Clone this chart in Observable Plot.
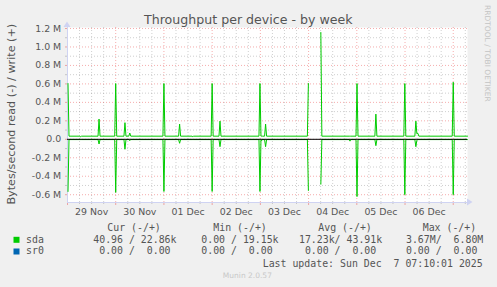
<!DOCTYPE html>
<html><head><meta charset="utf-8">
<script src="https://cdn.jsdelivr.net/npm/d3@7"></script>
<script src="https://cdn.jsdelivr.net/npm/@observablehq/plot@0.6"></script>
<style>
html,body{margin:0;padding:0;background:#f0f0f0;}
#chart svg{display:block;}
</style></head><body><div id="chart"></div>
<script>
// time in hours since 29 Nov 2025 00:00
const hours = [
  0.25, 0.75, 6.2, 6.6, 7.0, 15.2, 15.7, 16.2,
  23.5, 24.0, 24.5, 28.1, 28.6, 29.1, 30.5, 31.0, 31.5,
  47.5, 48.0, 48.5, 55.3, 55.8, 56.3, 62.0, 62.4, 62.8,
  71.5, 72.0, 72.5, 75.4, 75.9, 76.4,
  95.3, 95.8, 96.3, 96.6, 97.0, 98.1, 98.6, 99.1,
  119.4, 119.9, 120.4, 126.1, 126.6,
  140.2, 140.6, 141.0, 143.6, 144.1, 144.6, 153.0, 153.5, 154.0,
  167.4, 167.9, 168.4, 172.9, 173.4, 173.9, 174.4, 174.9,
  191.5, 192.0, 192.5, 199.1
];
// sda write (+), bytes/second
const sdaWrite = [
  604000, 34000, 34000, 27000, 34000, 34000, 219000, 34000,
  34000, 604000, 34000, 34000, 180000, 34000, 34000, 68000, 34000,
  34000, 604000, 34000, 34000, 165000, 34000, 34000, 28000, 34000,
  34000, 604000, 34000, 34000, 197000, 34000,
  34000, 604000, 34000, 34000, 34000, 34000, 165000, 34000,
  34000, 604000, null, 1157000, 34000,
  34000, 34000, 34000, 34000, 604000, 34000, 34000, 273000, 34000,
  34000, 604000, 34000, 34000, 197000, 60000, 65000, 34000,
  34000, 618000, 34000, 34000
];
// sda read (-), bytes/second drawn negative
const sdaRead = [
  -565000, -3000, -3000, -3000, -3000, -3000, -51000, -3000,
  -3000, -575000, -3000, -3000, -108000, -3000, -3000, -15000, -3000,
  -3000, -565000, -3000, -3000, -43000, -3000, -3000, -3000, -3000,
  -3000, -565000, -3000, -3000, -80000, -3000,
  -3000, -565000, -3000, -15000, -3000, -3000, -80000, -3000,
  -3000, -554000, null, -486000, -3000,
  -3000, -20000, -3000, -3000, -620000, -3000, -3000, -69000, -3000,
  -3000, -600000, -3000, -3000, -80000, -10000, -3000, -3000,
  -3000, -600000, -3000, -3000
];
const dayLabels = ["29 Nov","30 Nov","01 Dec","02 Dec","03 Dec","04 Dec","05 Dec","06 Dec"];
const dayNoons = [12, 36, 60, 84, 108, 132, 156, 180];
const midnights = [0, 24, 48, 72, 96, 120, 144, 168, 192];
const sixHours = [6,12,18,30,36,42,54,60,66,78,84,90,102,108,114,126,132,138,150,156,162,174,180,186,198];
const yMajor = [-600000,-400000,-200000,0,200000,400000,600000,800000,1000000,1200000];
const yMinor = [-500000,-300000,-100000,100000,300000,500000,700000,900000,1100000];
const legendHeader = ["Cur (-/+)", "Min (-/+)", "Avg (-/+)", "Max (-/+)"];
const seriesNames = ["sda", "sr0"];
const seriesColors = ["#00cc00", "#0066b3"];
const legendRows = [
  [" 40.96 / 22.86k", "  0.00 / 19.15k", " 17.23k/ 43.91k", "  3.67M/  6.80M"],
  ["  0.00 /  0.00 ", "  0.00 /  0.00 ", "  0.00 /  0.00 ", "  0.00 /  0.00 "]
];
const lastUpdate = "Last update: Sun Dec  7 07:10:01 2025";

const data = hours.map((h, i) => ({h, w: sdaWrite[i], r: sdaRead[i]}));

const gray = "rgba(128,128,128,0.38)";
const red = "rgba(230,40,40,0.38)";
const axisCol = "#cfd3f2";
const txt = "#555555";

const plot = Plot.plot({
  width: 497, height: 287,
  marginLeft: 67, marginRight: 30, marginTop: 27, marginBottom: 85,
  style: {background: "#f0f0f0", fontFamily: "DejaVu Sans", color: txt, overflow: "visible"},
  x: {domain: [0, 199.1], label: null},
  y: {domain: [-684400, 1210800], label: null},
  marks: [
    Plot.frame({fill: "white", stroke: null}),
    Plot.ruleX(sixHours, {stroke: gray, strokeDasharray: "1,2", y1: -684400, y2: 1210800}),
    Plot.ruleY(yMinor, {stroke: gray, strokeDasharray: "1,2"}),
    Plot.ruleX(midnights, {stroke: red, strokeDasharray: "1,2", y1: -684400, y2: 1210800}),
    Plot.ruleY(yMajor, {stroke: red, strokeDasharray: "1,2"}),
    Plot.axisX({ticks: midnights, tickSize: 3, tickFormat: () => "", stroke: red, label: null}),
    Plot.axisX({ticks: sixHours, tickSize: 2, tickFormat: () => "", stroke: gray, label: null}),
    Plot.axisX({ticks: dayNoons, tickSize: 0, tickPadding: 6, fontSize: 9.4, label: null,
      tickFormat: d => dayLabels[Math.round((d - 12) / 24)]}),
    Plot.axisY({ticks: yMajor, tickSize: 2, tickPadding: 4.3, fontSize: 9.4, stroke: red, label: null,
      tickFormat: d => d === 0 ? "0.0" : (d / 1e6).toFixed(1) + " M"}),
    Plot.axisY({ticks: yMinor, tickSize: 2, tickFormat: () => "", stroke: gray, label: null}),
    Plot.ruleY([-684400], {stroke: axisCol}),
    Plot.ruleX([0], {stroke: axisCol}),
    Plot.line(data, {x: "h", y: "r", stroke: seriesColors[0], strokeWidth: 1}),
    Plot.ruleY([0], {stroke: "#000000", strokeWidth: 1}),
    Plot.line(data, {x: "h", y: "w", stroke: seriesColors[0], strokeWidth: 1})
  ]
});
document.getElementById("chart").append(plot);

const svg = d3.select(plot);
// axis arrows
svg.append("path").attr("d", "M467,198.5 L472.5,202 L467,205.5 Z").attr("fill", axisCol);
svg.append("path").attr("d", "M63.5,27 L67,21.5 L70.5,27 Z").attr("fill", axisCol);

function addText(x, y, t, opts = {}) {
  const el = svg.append("text").attr("x", x).attr("y", y)
    .attr("text-anchor", opts.anchor || "start")
    .attr("font-family", opts.family || "DejaVu Sans")
    .attr("font-size", opts.size || 10)
    .attr("fill", opts.fill || txt)
    .style("white-space", "pre")
    .text(t);
  if (opts.transform) el.attr("transform", opts.transform);
  return el;
}

addText(248.3, 23.5, "Throughput per device - by week", {anchor: "middle", size: 12.6});
addText(0, 0, "Bytes/second read (-) / write (+)",
  {anchor: "middle", size: 11.2, transform: "translate(15,114.2) rotate(-90)"});
addText(0, 0, "RRDTOOL / TOBI OETIKER",
  {anchor: "start", size: 7.5, fill: "#c4c4c4", transform: "translate(485,5) rotate(90)"});

const mono = "DejaVu Sans Mono";
const headerX = [107.3, 213.3, 318.3, 422.7];
legendHeader.forEach((t, i) => addText(headerX[i], 230.7, t, {family: mono, size: 9.9}));
const fieldX = [87.3, 189.4, 293, 394.1];
const rowY = [242.6, 254.3];
seriesNames.forEach((name, r) => {
  svg.append("rect").attr("x", 13.5).attr("y", rowY[r] - 5.8).attr("width", 6).attr("height", 6)
    .attr("fill", seriesColors[r]);
  addText(26, rowY[r], name, {family: mono, size: 9.9});
  legendRows[r].forEach((t, i) => addText(fieldX[i], rowY[r], t, {family: mono, size: 9.9}));
});
addText(482.7, 266.6, lastUpdate, {anchor: "end", family: mono, size: 9.9});
addText(247.4, 278.3, "Munin 2.0.57", {anchor: "middle", size: 7.5, fill: "#c8c8c8"});
</script></body></html>
